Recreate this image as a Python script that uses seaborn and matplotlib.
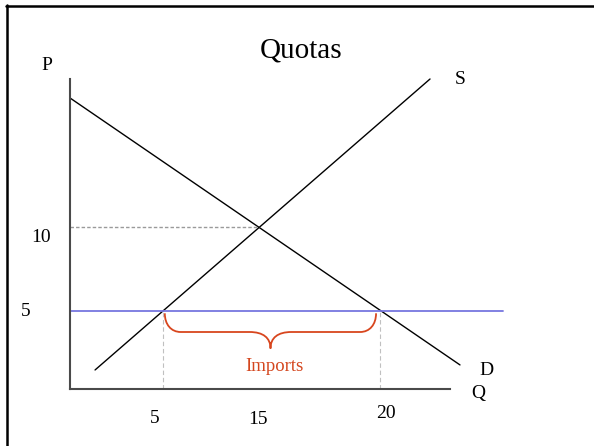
import matplotlib
matplotlib.use('Agg')
import matplotlib.pyplot as plt
from matplotlib.lines import Line2D
from matplotlib.path import Path
from matplotlib.patches import PathPatch
import seaborn as sns

# supply and demand curves (Q, P)
demand_q = [-1.45, 25.5]
demand_p = [17.68, 1.79]
supply_q = [0.28, 23.43]
supply_p = [1.49, 18.81]

world_price = 5        # blue line
autarky_price = 10     # dotted line
q_supplied = 5         # domestic supply at world price
q_demanded = 20        # domestic demand at world price
q_equilibrium = 11.6   # where S and D cross
world_line_end = 28.5

q_tick_labels = ['5', '15', '20']
q_tick_pos = [4.42, 11.55, 20.35]
q_tick_baseline_py = [422.7, 424.3, 418.3]   # the labels are not on one line
p_tick_labels = ['10', '5']

# pixel layout of the diagram (figure is 594 x 446 px)
W, H = 594, 446
q0_px, q_scale = 91.0, 14.47    # px of Q=0, px per unit of Q
p0_py, p_scale = 395.0, 16.8    # py of P=0, px per unit of P
box_l, box_r, box_t, box_b = 70, 450, 79, 389.3

sns.set_theme(style='white')
plt.rcParams['font.family'] = ['Liberation Serif', 'DejaVu Serif']
plt.rcParams['text.color'] = 'black'

fig = plt.figure(figsize=(W / 100, H / 100), dpi=100)
ax = fig.add_axes([box_l / W, (H - box_b) / H, (box_r - box_l) / W, (box_b - box_t) / H])
ax.set_xlim((box_l - q0_px) / q_scale, (box_r - q0_px) / q_scale)
ax.set_ylim((p0_py - box_b) / p_scale, (p0_py - box_t) / p_scale)


def py_to_p(py):
    return (p0_py - py) / p_scale


def px_to_q(px):
    return (px - q0_px) / q_scale


x_left = ax.get_xlim()[0]
y_bot = ax.get_ylim()[0]

# curves
sns.lineplot(x=demand_q, y=demand_p, ax=ax, color='black', lw=1.0, sort=False, clip_on=False)
sns.lineplot(x=supply_q, y=supply_p, ax=ax, color='black', lw=1.0, sort=False, clip_on=False)
sns.lineplot(x=[x_left, world_line_end], y=[world_price, world_price], ax=ax,
             color='#7676df', lw=1.3, sort=False, clip_on=False)

# guides
ax.plot([x_left, q_equilibrium], [autarky_price, autarky_price], color='#9a9a9a',
        lw=1.0, ls=(0, (2.5, 1.5)))
for q in [q_supplied, q_demanded]:
    ax.plot([q, q], [y_bot, world_price], color='#c0c0c0', lw=0.8, ls=(0, (4, 2.5)))

# brace under the world price line
b_left, b_right = q_supplied + 0.1, q_demanded - 0.3
b_top, b_mid, b_tip = py_to_p(313.3), py_to_p(332.0), py_to_p(348.5)
b_center = px_to_q(270.5)
rq, rt = 1.1, 1.45
verts = [
    (b_left, b_top),
    (b_left, b_top - 0.6 * (b_top - b_mid)), (b_left + 0.4 * rq, b_mid), (b_left + rq, b_mid),
    (b_center - rt, b_mid),
    (b_center - 0.35 * rt, b_mid), (b_center, b_mid - 0.35 * (b_mid - b_tip)), (b_center, b_tip),
    (b_center, b_mid - 0.35 * (b_mid - b_tip)), (b_center + 0.35 * rt, b_mid), (b_center + rt, b_mid),
    (b_right - rq, b_mid),
    (b_right - 0.4 * rq, b_mid), (b_right, b_top - 0.6 * (b_top - b_mid)), (b_right, b_top),
]
codes = [Path.MOVETO,
         Path.CURVE4, Path.CURVE4, Path.CURVE4,
         Path.LINETO,
         Path.CURVE4, Path.CURVE4, Path.CURVE4,
         Path.CURVE4, Path.CURVE4, Path.CURVE4,
         Path.LINETO,
         Path.CURVE4, Path.CURVE4, Path.CURVE4]
ax.add_patch(PathPatch(Path(verts, codes), facecolor='none', edgecolor='#d8461e', lw=1.3))
ax.text(px_to_q(274.7), py_to_p(371), 'Imports', color='#d4461e', fontsize=13.5,
        ha='center', va='baseline')

# axes
for side in ['top', 'right']:
    ax.spines[side].set_visible(False)
for side in ['left', 'bottom']:
    ax.spines[side].set_color('#4a4a4a')
    ax.spines[side].set_linewidth(1.5)
ax.set_xticks([])
ax.set_yticks([])
ax.patch.set_alpha(0)

# labels
lab = dict(fontsize=14, ha='center', va='baseline', clip_on=False)
for txt, q, py in zip(q_tick_labels, q_tick_pos, q_tick_baseline_py):
    ax.text(q, py_to_p(py), txt, **lab)
ax.text(px_to_q(41), py_to_p(242.3), p_tick_labels[0], **lab)
ax.text(px_to_q(26), py_to_p(316), p_tick_labels[1], **lab)
ax.text(px_to_q(46.7), py_to_p(70), 'P', **lab)
ax.text(px_to_q(478.5), py_to_p(398), 'Q', **lab)
ax.text(px_to_q(460.5), py_to_p(84.3), 'S', **lab)
ax.text(px_to_q(486.5), py_to_p(375), 'D', **lab)
ax.text(px_to_q(301), py_to_p(57.3), 'Quotas', fontsize=21, ha='center', va='baseline')

# slide frame (top and left edges)
fig.add_artist(Line2D([6 / W, 1], [1 - 6 / H, 1 - 6 / H], color='black', lw=1.8))
fig.add_artist(Line2D([7 / W, 7 / W], [0, 1 - 5 / H], color='black', lw=1.8))

fig.savefig('out.png', dpi=100, facecolor='white')
